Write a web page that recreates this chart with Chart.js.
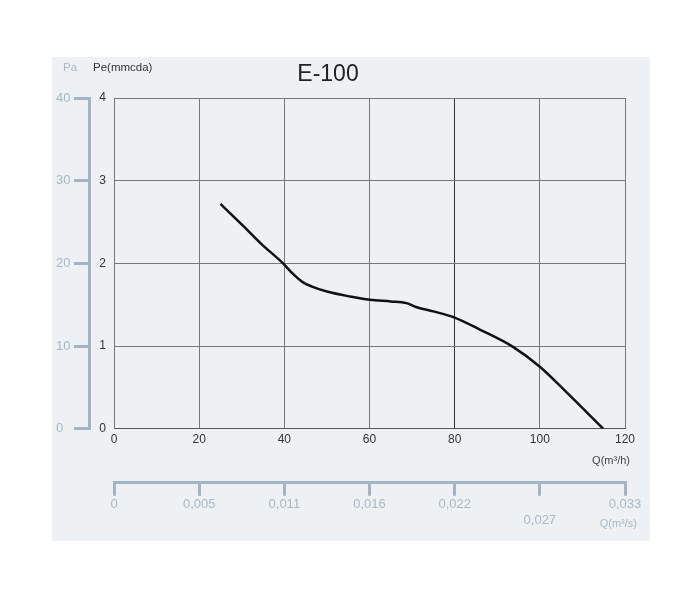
<!DOCTYPE html>
<html lang="en">
<head>
    <meta charset="UTF-8">
    <title>E-100</title>
    <script src="https://cdn.jsdelivr.net/npm/chart.js"></script>
    <style>
        html, body { margin: 0; padding: 0; background: #fff; }
        #wrap { width: 700px; height: 600px; position: relative; }
    </style>
</head>
<body>
    <div id="wrap"><canvas id="fanChart"></canvas></div>
    <script>
        // Curve: flow in m3/h, pressure in mmcda
        const flowM3h = [25, 30.4, 34.5, 39.7, 42.1, 44.4, 46.5, 50, 55.4, 60.1, 65, 68.7, 71.1, 75, 79.7, 85.9, 93.7, 100, 106.3, 114.9];
        const pressure = [2.72, 2.45, 2.24, 2.0, 1.87, 1.77, 1.72, 1.66, 1.60, 1.56, 1.54, 1.52, 1.47, 1.42, 1.35, 1.20, 0.99, 0.75, 0.44, 0];

        // Secondary axis labels (m3/s) at every 20 m3/h
        const flowM3sLabels = ['0', '0,005', '0,011', '0,016', '0,022', '0,027', '0,033'];
        const loweredLabels = ['0,027'];

        const paleBlue = '#a3b4c6';
        const paleText = '#a9b8c7';
        const darkText = '#333';

        // Background panel + loose texts
        const decor = {
            id: 'decor',
            beforeDraw(chart) {
                const c = chart.ctx;
                c.save();
                c.fillStyle = '#edf1f3';
                c.fillRect(52, 57, 598, 484);
                c.restore();
            },
            afterDraw(chart) {
                const c = chart.ctx;
                const area = chart.chartArea;
                c.save();
                c.textBaseline = 'middle';
                c.fillStyle = '#222';
                c.font = '23px "Liberation Sans", Arial, sans-serif';
                c.textAlign = 'center';
                c.fillText('E-100', 328, 75);

                c.font = '11.5px "Liberation Sans", Arial, sans-serif';
                c.textAlign = 'left';
                c.fillStyle = darkText;
                c.fillText('Pe(mmcda)', 93, 68);
                c.fillStyle = paleText;
                c.fillText('Pa', 63, 68);

                c.font = '11px "Liberation Sans", Arial, sans-serif';
                c.textAlign = 'right';
                c.fillStyle = '#444';
                c.fillText('Q(m\u00b3/h)', area.right + 5, 461);
                c.fillStyle = paleText;
                c.fillText('Q(m\u00b3/s)', area.right + 12, 524);
                c.restore();
            }
        };

        const ctx = document.getElementById('fanChart').getContext('2d');
        new Chart(ctx, {
            type: 'line',
            data: {
                datasets: [{
                    data: flowM3h.map((q, i) => ({ x: q, y: pressure[i] })),
                    borderColor: '#111',
                    borderWidth: 2.5,
                    pointRadius: 0,
                    cubicInterpolationMode: 'monotone',
                    fill: false
                }]
            },
            options: {
                responsive: true,
                maintainAspectRatio: false,
                animation: false,
                layout: { padding: { left: 56, top: 98, right: 75, bottom: 71 } },
                plugins: {
                    legend: { display: false },
                    tooltip: { enabled: false }
                },
                scales: {
                    x: {
                        type: 'linear',
                        position: 'bottom',
                        min: 0, max: 120,
                        weight: 0,
                        ticks: { stepSize: 20, padding: 4, color: darkText, font: { size: 12, family: '"Liberation Sans", Arial' } },
                        grid: {
                            drawTicks: false,
                            color: (c) => c.tick && c.tick.value === 80 ? '#333' : '#777'
                        },
                        border: { color: '#555' },
                        afterFit(scale) { scale.height = 54; }
                    },
                    qs: {
                        type: 'linear',
                        position: 'bottom',
                        min: 0, max: 120,
                        weight: 1,
                        ticks: {
                            stepSize: 20,
                            padding: 1,
                            color: paleText,
                            font: { size: 13, family: '"Liberation Sans", Arial' },
                            callback: (v, i) => {
                                const label = flowM3sLabels[i];
                                return loweredLabels.includes(label) ? ['', label] : label;
                            }
                        },
                        grid: { drawOnChartArea: false, drawTicks: true, tickLength: 13, lineWidth: 3, color: paleBlue },
                        border: { display: true, width: 3, color: paleBlue }
                    },
                    y: {
                        type: 'linear',
                        position: 'left',
                        min: 0, max: 4,
                        weight: 0,
                        ticks: { stepSize: 1, padding: 8, color: darkText, font: { size: 12, family: '"Liberation Sans", Arial' } },
                        grid: { drawTicks: false, color: '#777' },
                        border: { color: '#777' },
                        afterFit(scale) { scale.width = 25; }
                    },
                    pa: {
                        type: 'linear',
                        position: 'left',
                        min: 0, max: 40,
                        weight: 1,
                        ticks: {
                            stepSize: 10,
                            crossAlign: 'far',
                            color: paleText,
                            font: { size: 13, family: '"Liberation Sans", Arial' }
                        },
                        grid: { drawOnChartArea: false, drawTicks: true, tickLength: 15, lineWidth: 3, color: paleBlue },
                        border: { display: true, width: 3, color: paleBlue },
                        afterFit(scale) { scale.width = 33; }
                    }
                }
            },
            plugins: [decor]
        });
    </script>
</body>
</html>
